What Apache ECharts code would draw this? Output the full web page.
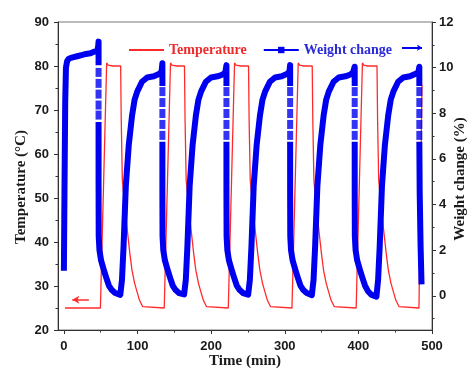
<!DOCTYPE html>
<html>
<head>
<meta charset="utf-8">
<script src="https://cdn.jsdelivr.net/npm/echarts@6/dist/echarts.min.js"></script>
<style>
  html, body { margin: 0; padding: 0; background: #fff; }
  #chart { width: 469px; height: 370px; }
</style>
</head>
<body>
<div id="chart"></div>
<script>
const timeTicks = [0, 100, 200, 300, 400, 500];
const timeMinorTicks = [50, 150, 250, 350, 450];
const weightTicks = [0, 2, 4, 6, 8, 10, 12];
const weightMinorTicks = [-1, 1, 3, 5, 7, 9, 11];

// [time (min), temperature (°C)]
const temperature = [
  [1.4, 25], [49.6, 25], [58.1, 80.7], [60.1, 80.2], [66, 80], [77.1, 80], [77.9, 67.7], [79.4, 54.1],
  [81.8, 49.5], [84.6, 45], [89.6, 37.4], [92.5, 33.6], [96.1, 30.6], [102.6, 26.8], [107.1, 25.3], [108.1, 25],
  [136.3, 25], [144.8, 80.7], [146.8, 80.2], [153, 80], [163.8, 80], [164.6, 67.7], [166.1, 54.1],
  [168.5, 49.5], [171.3, 45], [176.3, 37.4], [179.2, 33.6], [182.8, 30.6], [189.3, 26.8], [193.8, 25.3], [194.8, 25],
  [223.3, 25], [231.8, 80.7], [233.8, 80.2], [240, 80], [250.8, 80], [251.6, 67.7], [253.1, 54.1],
  [255.5, 49.5], [258.3, 45], [263.3, 37.4], [266.2, 33.6], [269.8, 30.6], [276.3, 26.8], [280.8, 25.3], [281.8, 25],
  [309.8, 25], [318.3, 80.7], [320.3, 80.2], [326, 80], [337.3, 80], [338.1, 67.7], [339.6, 54.1],
  [342, 49.5], [344.8, 45], [349.8, 37.4], [352.7, 33.6], [356.3, 30.6], [362.8, 26.8], [367.3, 25.3], [368.3, 25],
  [397, 25], [405.5, 80.7], [407.5, 80.2], [413, 80], [425.3, 80], [426.1, 67.7], [427.6, 54.1],
  [430, 49.5], [432.8, 45], [437.8, 37.4], [440.7, 33.6], [444.3, 30.6], [450.8, 26.8], [455.3, 25.3], [456.3, 25],
  [482.3, 25], [486.4, 75.7],
];

// [time (min), weight change (%)]; null marks where the fast drop is drawn as loose squares
const weightChange = [
  [0, 1.1], [0.8, 4.5], [1.8, 8.5], [2.8, 10.0], [4.5, 10.3], [7, 10.4], [12, 10.45], [18, 10.5],
  [24, 10.55], [30, 10.6], [36, 10.63], [41, 10.7], [45.5, 10.74], [46.6, 10.95], [47.1, 11.14], [47.1, 10.1], null,
  [47.1, 7.62], [47.1, 5.0], [47.3, 2.6], [48.3, 2.0], [50.5, 1.55], [54.1, 1.15], [57.5, 0.8], [61.1, 0.45],
  [65.1, 0.25], [69.6, 0.12], [76.6, 0.04], [78.9, 0.7], [81.1, 2.2], [84.1, 4.8], [88.1, 6.6], [92.6, 7.9],
  [96.1, 8.6], [99.6, 8.95], [106.1, 9.38], [113.1, 9.57], [122.1, 9.62], [129.1, 9.72], [132.6, 9.82],
  [133.8, 10.19], [133.8, 9.2], null,
  [133.8, 6.75], [133.8, 4.5], [134, 2.6], [135, 2.0], [137.2, 1.55], [140.8, 1.15], [144.2, 0.8], [147.8, 0.45],
  [151.8, 0.25], [156.3, 0.12], [163.3, 0.06], [165.6, 0.7], [167.8, 2.2], [170.8, 4.8], [174.8, 6.6], [179.3, 7.9],
  [182.8, 8.6], [186.3, 8.95], [192.8, 9.38], [199.8, 9.57], [208.8, 9.62], [215.8, 9.7], [219.3, 9.8],
  [220.8, 10.11], [220.8, 9.2], null,
  [220.8, 6.75], [220.8, 4.5], [221, 2.6], [222, 2.0], [224.2, 1.55], [227.8, 1.15], [231.2, 0.8], [234.8, 0.45],
  [238.8, 0.25], [243.3, 0.12], [250.3, 0.05], [252.6, 0.7], [254.8, 2.2], [257.8, 4.8], [261.8, 6.6], [266.3, 7.9],
  [269.8, 8.6], [273.3, 8.95], [279.8, 9.38], [286.8, 9.57], [295.8, 9.62], [302.8, 9.72], [306.3, 9.82],
  [307.3, 10.11], [307.3, 9.2], null,
  [307.3, 6.75], [307.3, 4.5], [307.5, 2.6], [308.5, 2.0], [310.7, 1.55], [314.3, 1.15], [317.7, 0.8], [321.3, 0.45],
  [325.3, 0.25], [329.8, 0.12], [336.8, 0.03], [339.1, 0.7], [341.3, 2.2], [344.3, 4.8], [348.3, 6.6], [352.8, 7.9],
  [356.3, 8.6], [359.8, 8.95], [366.3, 9.38], [373.3, 9.57], [382.3, 9.62], [389.3, 9.7], [392.8, 9.8],
  [395, 10.04], [395, 9.2], null,
  [395, 6.75], [395, 4.5], [395.2, 2.6], [396.2, 2.0], [398.4, 1.55], [402, 1.15], [405.4, 0.8], [409, 0.45],
  [413, 0.2], [417.5, 0.05], [424.5, -0.04], [426.8, 0.7], [429, 2.2], [432, 4.8], [436, 6.6], [440.5, 7.9],
  [444, 8.6], [447.5, 8.95], [454, 9.38], [461, 9.57], [470, 9.62], [477, 9.72], [481.5, 9.8],
  [482.8, 10.04], [482.8, 9.2], null,
  [482.8, 6.75], [483.3, 4.5], [484.5, 2.2], [485.8, 0.5],
];

// loose square markers on the fast drops
const weightDropPoints = [
  [47.1, 9.79], [47.1, 9.31], [47.1, 8.84], [47.1, 8.36], [47.1, 7.92],
  [133.8, 8.95], [133.8, 8.47], [133.8, 7.99], [133.8, 7.51], [133.8, 7.03],
  [220.8, 8.95], [220.8, 8.47], [220.8, 7.99], [220.8, 7.51], [220.8, 7.03],
  [307.3, 8.95], [307.3, 8.47], [307.3, 7.99], [307.3, 7.51], [307.3, 7.03],
  [395, 8.95], [395, 8.47], [395, 7.99], [395, 7.51], [395, 7.03],
  [482.8, 8.95], [482.8, 8.47], [482.8, 7.99], [482.8, 7.51], [482.8, 7.03],
];

const tempArrow = [[33.9, 26.9], [11.4, 26.9]];
const weightArrow = [[459.3, 10.87], [486.4, 10.87]];

const RED = "#ff2b2b";
const BLUE = "#0000f0";
const AXIS = "#333";
const LABEL_FONT = "Liberation Sans";
const NAME_FONT = "Liberation Serif";

function tickLabel() {
  return { fontFamily: LABEL_FONT, fontWeight: "bold", fontSize: 13, color: "#1a1a1a" };
}

function axisName(padding) {
  return { fontFamily: NAME_FONT, fontWeight: "bold", fontSize: 15, color: "#1a1a1a", padding };
}

function minorAxis(extra) {
  return Object.assign({
    type: "value",
    axisLine: { show: false, onZero: false },
    axisLabel: { show: false },
    splitLine: { show: false },
  }, extra);
}

const chart = echarts.init(document.getElementById("chart"));

chart.setOption({
  animation: false,
  grid: {
    left: 58, right: 37, top: 22, bottom: 40,
    outerBoundsMode: "none",
    show: true, borderColor: "#777", borderWidth: 1,
  },
  legend: {
    left: 124,
    top: 38,
    itemWidth: 35,
    itemHeight: 8,
    itemGap: 16,
    lineStyle: { width: 2 },
    textStyle: { fontFamily: NAME_FONT, fontWeight: "bold", fontSize: 14 },
    data: [
      { name: "Temperature", icon: "path://M0,0H35V2H0Z", textStyle: { color: "#ee2c2c" } },
      { name: "Weight change", textStyle: { color: "#2a2ad8" } },
    ],
  },
  xAxis: [
    {
      type: "value",
      min: -8,
      max: 500,
      position: "bottom",
      name: "Time (min)",
      nameLocation: "middle",
      nameGap: 24,
      nameMoveOverlap: false,
      nameTextStyle: axisName(0),
      axisLine: { onZero: false, lineStyle: { color: AXIS } },
      axisTick: { customValues: timeTicks, length: 4, lineStyle: { color: AXIS } },
      axisLabel: Object.assign({ customValues: timeTicks, margin: 10 }, tickLabel()),
      splitLine: { show: false },
    },
    minorAxis({
      min: -8,
      max: 500,
      position: "bottom",
      axisTick: { customValues: timeMinorTicks, length: 2.5, lineStyle: { color: AXIS } },
    }),
  ],
  yAxis: [
    {
      type: "value",
      min: 20,
      max: 90,
      interval: 10,
      position: "left",
      name: "Temperature (°C)",
      nameLocation: "middle",
      nameRotate: 90,
      nameGap: 29,
      nameMoveOverlap: false,
      nameTextStyle: axisName([0, 22, 0, 0]),
      axisLine: { show: true, onZero: false, lineStyle: { color: AXIS } },
      axisTick: { length: 4, lineStyle: { color: AXIS } },
      minorTick: { show: true, splitNumber: 2, length: 2.5, lineStyle: { color: AXIS } },
      axisLabel: Object.assign({ margin: 9 }, tickLabel()),
      splitLine: { show: false },
    },
    {
      type: "value",
      min: -1.5,
      max: 12,
      position: "right",
      name: "Weight change (%)",
      nameLocation: "middle",
      nameRotate: 90,
      nameGap: 21,
      nameMoveOverlap: false,
      nameTextStyle: axisName([0, 6, 0, 0]),
      axisLine: { show: true, onZero: false, lineStyle: { color: AXIS } },
      axisTick: { customValues: weightTicks, length: 4, lineStyle: { color: AXIS } },
      axisLabel: Object.assign({ customValues: weightTicks, margin: 7 }, tickLabel()),
      splitLine: { show: false },
    },
    minorAxis({
      min: -1.5,
      max: 12,
      position: "right",
      axisTick: { customValues: weightMinorTicks, length: 2.5, lineStyle: { color: AXIS } },
    }),
  ],
  series: [
    {
      name: "Temperature",
      type: "line",
      xAxisIndex: 0,
      yAxisIndex: 0,
      data: temperature,
      symbol: "none",
      lineStyle: { color: RED, width: 1.3 },
      itemStyle: { color: RED },
      z: 2,
      markLine: {
        silent: true,
        symbol: ["none", "arrow"],
        symbolSize: [6, 7],
        label: { show: false },
        lineStyle: { color: RED, width: 1.5, type: "solid" },
        data: [[{ coord: tempArrow[0] }, { coord: tempArrow[1] }]],
      },
    },
    {
      name: "Weight change",
      type: "line",
      xAxisIndex: 0,
      yAxisIndex: 1,
      data: weightChange.map((p) => p || ["-", "-"]),
      symbol: "rect",
      symbolSize: 6,
      showSymbol: false,
      connectNulls: false,
      lineStyle: { color: BLUE, width: 6, cap: "butt", join: "round" },
      itemStyle: { color: BLUE },
      z: 3,
      markLine: {
        silent: true,
        symbol: ["none", "arrow"],
        symbolSize: [5, 5],
        label: { show: false },
        lineStyle: { color: BLUE, width: 2, type: "solid" },
        data: [[{ coord: weightArrow[0] }, { coord: weightArrow[1] }]],
      },
    },
    {
      name: "Weight change drop",
      type: "scatter",
      xAxisIndex: 0,
      yAxisIndex: 1,
      data: weightDropPoints,
      symbol: "rect",
      symbolSize: [6, 9],
      itemStyle: { color: BLUE },
      z: 3,
    },
  ],
});
</script>
</body>
</html>
